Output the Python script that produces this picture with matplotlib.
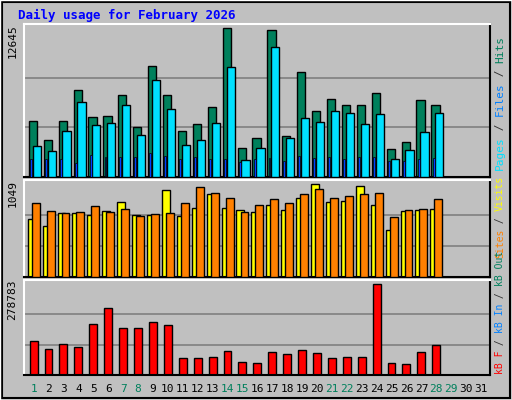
import matplotlib
matplotlib.use("Agg")
import matplotlib.pyplot as plt
import numpy as np

days = list(range(1, 32))
hits = [4730,3100,4730,7400,5070,5160,6970,4210,9460,6970,3870,4470,5930,12645,2490,3350,12470,3440,8940,5590,6620,6100,6100,7140,2410,3010,6540,6100]
files = [2670,2240,3870,6360,4390,4560,6110,3530,8260,5760,2750,3100,4560,9370,1460,2490,11010,3270,4990,4640,5590,5420,4470,5330,1550,2320,3780,5420]
pages = [1500,1500,1500,1200,1900,1700,1700,1700,2000,1800,1500,1700,1500,1500,1300,1500,1600,1400,1800,1600,1700,1500,1700,1700,1400,1400,1500,1600]
visits = [650,570,718,718,695,741,844,695,695,980,684,775,935,775,752,730,809,752,889,1049,844,855,1026,809,536,741,752,764]
sites = [832,741,718,730,798,730,764,684,707,718,832,1015,946,889,730,809,878,832,935,992,889,912,935,946,673,752,764,878]
kbytes = [104100,79600,95000,85800,156200,205200,144000,144000,162300,153200,52100,52100,55100,73500,39800,36800,70400,64300,76600,67400,52100,55100,55100,278783,36800,33700,70400,91900]
weekend = [1,7,8,14,15,21,22,28,29]
title = "Daily usage for February 2026"

BG = "#c0c0c0"
fig = plt.figure(figsize=(5.12, 4.0), dpi=100, facecolor=BG)
fig.patches.append(plt.Rectangle((0.004, 0.004), 0.992, 0.992, transform=fig.transFigure,
                                 fill=False, ec="black", lw=1.5))
fig.patches.append(plt.Rectangle((0.0, 0.0), 1, 1, transform=fig.transFigure,
                                 fill=False, ec="white", lw=1))
mono = "DejaVu Sans Mono"
fig.text(18/512, 1-15/400, title, color="#0000ff", fontsize=9, fontweight="bold",
         family=mono, va="center")

L, W = 24/512, 466/512
def mk(top, bot):
    ax = fig.add_axes([L, 1-bot/400, W, (bot-top)/400])
    ax.set_facecolor(BG)
    ax.set_xlim(0.35, 31.6)
    ax.set_xticks([]); ax.set_yticks([])
    for s in ax.spines.values():
        s.set_linewidth(1.5); s.set_color("black")
    ax.spines["top"].set_color("white"); ax.spines["left"].set_color("white")
    return ax

n = len(hits)
x = np.arange(1, n+1)
ax1 = mk(24, 177)
m1 = max(hits)
ax1.set_ylim(0, m1*151/147)
for g in (m1/3, 2*m1/3):
    ax1.axhline(g, color="#808080", lw=1.2, zorder=0)
ax1.bar(x-0.33, hits, width=0.55, align="edge", color="#00805c", ec="black", lw=1, zorder=2)
ax1.bar(x-0.07, files, width=0.55, align="edge", color="#00e0ff", ec="black", lw=1, zorder=3)
ax1.bar(x-0.25, pages, width=0.13, align="edge", color="#0040ff", ec="black", lw=0.5, zorder=4)

ax2 = mk(180, 277)
m2 = max(visits)
ax2.set_ylim(0, m2*96/92)
for g in (m2/3, 2*m2/3):
    ax2.axhline(g, color="#808080", lw=1.2, zorder=0)
ax2.bar(x-0.4, visits, width=0.53, align="edge", color="#ffff00", ec="black", lw=1, zorder=2)
ax2.bar(x-0.13, sites, width=0.53, align="edge", color="#ff8000", ec="black", lw=1, zorder=3)

ax3 = mk(280, 375)
m3 = max(kbytes)
ax3.set_ylim(0, m3*95/91)
for g in (m3/3, 2*m3/3):
    ax3.axhline(g, color="#808080", lw=1.2, zorder=0)
ax3.bar(x-0.27, kbytes, width=0.53, align="edge", color="#ff0000", ec="black", lw=1, zorder=2)

for ax, lab in ((ax1, str(m1)), (ax2, str(m2)), (ax3, str(m3))):
    ax.text(-0.025, 1.0, lab, transform=ax.transAxes, rotation=90, ha="center", va="top",
            fontsize=8, family=mono)

for d in days:
    xf = L + (d - 0.35)/(31.6-0.35)*W
    fig.text(xf, 1-389/400, str(d), ha="center", va="center", fontsize=8, family=mono,
             color="#00805c" if d in weekend else "black")

def vlabel(ypix, parts, fs):
    s_all = "".join(p for p, _ in parts)
    cw = fs * 0.602 * 100 / 72  # char advance in pixels for mono font
    y = ypix
    for s, c in parts:
        fig.text(500/512, 1 - y/400, s, rotation=90, ha="center", va="bottom", fontsize=fs,
                 family=mono, color=c)
        y -= len(s) * cw
vlabel(170, [("Pages", "#00e0ff"), (" / ", "#333333"), ("Files", "#0080ff"),
             (" / ", "#333333"), ("Hits", "#00805c")], 8)
vlabel(258, [("Sites", "#ff8000"), (" / ", "#333333"), ("Visits", "#ffff00")], 7)
vlabel(374, [("kB F", "#ff0000"), (" / ", "#333333"), ("kB In", "#0080ff"),
             (" / ", "#333333"), ("kB Out", "#00805c")], 7)

fig.savefig("out.png", dpi=100, facecolor=BG)
